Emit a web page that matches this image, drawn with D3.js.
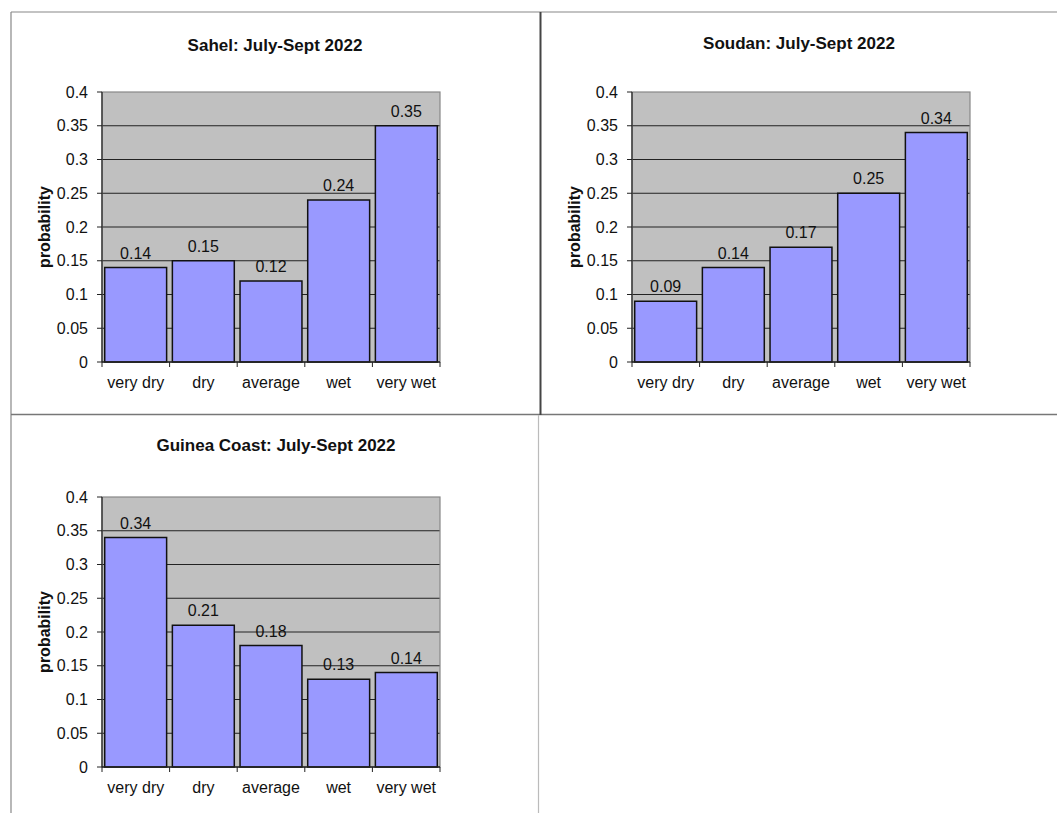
<!DOCTYPE html>
<html>
<head>
<meta charset="utf-8">
<script src="https://cdn.jsdelivr.net/npm/d3@7"></script>
<style>
  body { margin: 0; background: #fff; }
  svg { display: block; font-family: "Liberation Sans", Arial, sans-serif; }
</style>
</head>
<body>
<svg width="1057" height="813"></svg>
<script>
const categories = ["very dry", "dry", "average", "wet", "very wet"];
const sahelValues = [0.14, 0.15, 0.12, 0.24, 0.35];
const soudanValues = [0.09, 0.14, 0.17, 0.25, 0.34];
const guineaValues = [0.34, 0.21, 0.18, 0.13, 0.14];
const yTicks = [0, 0.05, 0.1, 0.15, 0.2, 0.25, 0.3, 0.35, 0.4];
const tickLabels = ["0", "0.05", "0.1", "0.15", "0.2", "0.25", "0.3", "0.35", "0.4"];

const svg = d3.select("svg");

// panel frame lines
const frame = svg.append("g");
frame.append("line").attr("x1", 11).attr("y1", 12).attr("x2", 1057).attr("y2", 12)
    .attr("stroke", "#888").attr("stroke-width", 1.2);
frame.append("line").attr("x1", 11).attr("y1", 12).attr("x2", 11).attr("y2", 813)
    .attr("stroke", "#888").attr("stroke-width", 1.2);
frame.append("line").attr("x1", 11).attr("y1", 414.5).attr("x2", 1057).attr("y2", 414.5)
    .attr("stroke", "#777").attr("stroke-width", 1.5);
frame.append("line").attr("x1", 538.5).attr("y1", 415).attr("x2", 538.5).attr("y2", 813)
    .attr("stroke", "#bbb").attr("stroke-width", 1.2);
frame.append("line").attr("x1", 540.5).attr("y1", 12).attr("x2", 540.5).attr("y2", 415)
    .attr("stroke", "#444").attr("stroke-width", 2);

function drawChart(opts) {
    const { title, values, left, top, titleX, titleY } = opts;
    const w = 338, h = 270;
    const g = svg.append("g").attr("transform", `translate(${left},${top})`);

    const x = d3.scaleBand().domain(categories).range([0, w]).paddingInner(0.085).paddingOuter(0.04);
    const xb = d3.scaleBand().domain(categories).range([0, w]);
    const y = d3.scaleLinear().domain([0, 0.4]).range([h, 0]);

    g.append("rect").attr("width", w).attr("height", h).attr("fill", "#c0c0c0");

    g.selectAll("line.grid").data(yTicks.slice(1, -1)).join("line")
        .attr("class", "grid")
        .attr("x1", 0).attr("x2", w)
        .attr("y1", d => y(d)).attr("y2", d => y(d))
        .attr("stroke", "#222").attr("stroke-width", 1);

    g.append("rect").attr("width", w).attr("height", h)
        .attr("fill", "none").attr("stroke", "#888").attr("stroke-width", 1.2);

    g.selectAll("rect.bar").data(values).join("rect")
        .attr("class", "bar")
        .attr("x", (d, i) => x(categories[i]))
        .attr("width", x.bandwidth())
        .attr("y", d => y(d))
        .attr("height", d => h - y(d))
        .attr("fill", "#9999ff")
        .attr("stroke", "#111")
        .attr("stroke-width", 1.5);

    g.selectAll("text.val").data(values).join("text")
        .attr("class", "val")
        .attr("x", (d, i) => x(categories[i]) + x.bandwidth() / 2)
        .attr("y", d => y(d) - 9)
        .attr("text-anchor", "middle")
        .attr("font-size", 16)
        .attr("fill", "#111")
        .text(d => d3.format(".2f")(d));

    // y axis
    const yAxis = g.append("g");
    yAxis.append("line").attr("x1", 0).attr("x2", 0).attr("y1", 0).attr("y2", h)
        .attr("stroke", "#222").attr("stroke-width", 1.2);
    yAxis.selectAll("line.tick").data(yTicks).join("line")
        .attr("class", "tick")
        .attr("x1", -5).attr("x2", 0)
        .attr("y1", d => y(d)).attr("y2", d => y(d))
        .attr("stroke", "#222");
    yAxis.selectAll("text").data(yTicks).join("text")
        .attr("x", -14)
        .attr("y", d => y(d))
        .attr("dy", "0.35em")
        .attr("text-anchor", "end")
        .attr("font-size", 16)
        .attr("fill", "#111")
        .text((d, i) => tickLabels[i]);

    // x axis
    const xAxis = g.append("g").attr("transform", `translate(0,${h})`);
    xAxis.append("line").attr("x1", 0).attr("x2", w)
        .attr("stroke", "#222").attr("stroke-width", 1.5);
    xAxis.selectAll("line.tick").data(categories.concat(["end"])).join("line")
        .attr("class", "tick")
        .attr("x1", (d, i) => i * xb.bandwidth()).attr("x2", (d, i) => i * xb.bandwidth())
        .attr("y1", 0).attr("y2", 5)
        .attr("stroke", "#222");
    xAxis.selectAll("text").data(categories).join("text")
        .attr("x", d => xb(d) + xb.bandwidth() / 2)
        .attr("y", 26)
        .attr("text-anchor", "middle")
        .attr("font-size", 16)
        .attr("fill", "#111")
        .text(d => d);

    g.append("text")
        .attr("transform", `translate(-52,${h / 2}) rotate(-90)`)
        .attr("text-anchor", "middle")
        .attr("font-size", 16)
        .attr("font-weight", "bold")
        .attr("fill", "#111")
        .text("probability");

    svg.append("text")
        .attr("x", titleX).attr("y", titleY)
        .attr("text-anchor", "middle")
        .attr("font-size", 17)
        .attr("font-weight", "bold")
        .attr("fill", "#111")
        .text(title);
}

drawChart({ title: "Sahel: July-Sept 2022", values: sahelValues, left: 102, top: 92, titleX: 275, titleY: 51 });
drawChart({ title: "Soudan: July-Sept 2022", values: soudanValues, left: 632, top: 92, titleX: 799, titleY: 49 });
drawChart({ title: "Guinea Coast: July-Sept 2022", values: guineaValues, left: 102, top: 497, titleX: 276, titleY: 451 });
</script>
</body>
</html>
